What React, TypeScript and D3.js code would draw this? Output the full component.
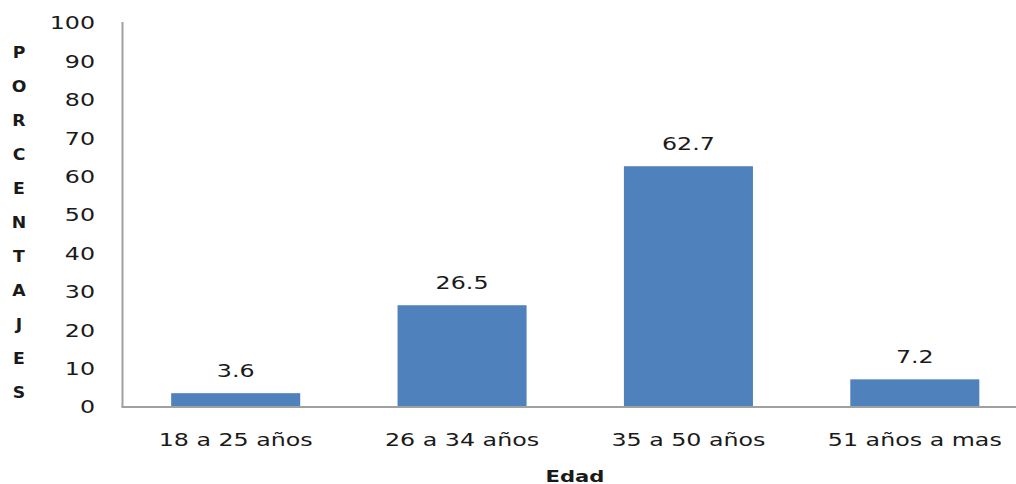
import React from "react";
import * as d3 from "d3";

const categories = ["18 a 25 años", "26 a 34 años", "35 a 50 años", "51 años a mas"];
const values = [3.6, 26.5, 62.7, 7.2];
const yTicks = [0, 10, 20, 30, 40, 50, 60, 70, 80, 90, 100];
const yTitle = "PORCENTAJES";
const xTitle = "Edad";

const W = 1016;
const H = 484;
const SX = 1.32;
const FONT = "'DejaVu Sans', Verdana, sans-serif";

export default function App() {
  const x = d3
    .scaleBand<string>()
    .domain(categories)
    .range([122.5, 1028])
    .paddingInner(0.43)
    .paddingOuter(0.215);
  const y = d3.scaleLinear().domain([0, 100]).range([407, 23]);
  const letters = yTitle.split("");

  return (
    <svg
      width={W}
      height={H}
      style={{ position: "absolute", left: 0, top: 0, background: "#fff" }}
      fontFamily={FONT}
    >
      <rect x={0} y={0} width={W} height={H} fill="#fff" />
      {/* bars */}
      {categories.map((c, i) => (
        <rect
          key={c}
          x={x(c)}
          y={y(values[i])}
          width={x.bandwidth()}
          height={y(0) - y(values[i])}
          fill="#4F81BD"
        />
      ))}
      {/* axes */}
      <line x1={122.5} x2={122.5} y1={22} y2={407} stroke="#a0a0a0" strokeWidth={2} />
      <line x1={121.5} x2={W} y1={407} y2={407} stroke="#a0a0a0" strokeWidth={2} />
      {/* y tick labels */}
      {yTicks.map((t) => (
        <text
          key={t}
          transform={`translate(95,${y(t)}) scale(${SX},1)`}
          textAnchor="end"
          dy="0.36em"
          fontSize={18}
          fill="#1a1a1a"
        >
          {t}
        </text>
      ))}
      {/* category labels */}
      {categories.map((c) => (
        <text
          key={c}
          transform={`translate(${(x(c) as number) + x.bandwidth() / 2},446) scale(${SX},1)`}
          textAnchor="middle"
          fontSize={18}
          fill="#1a1a1a"
        >
          {c}
        </text>
      ))}
      {/* data labels */}
      {categories.map((c, i) => (
        <text
          key={c + "v"}
          transform={`translate(${(x(c) as number) + x.bandwidth() / 2},${y(values[i]) - 16}) scale(${SX},1)`}
          textAnchor="middle"
          fontSize={18}
          fill="#1a1a1a"
        >
          {values[i]}
        </text>
      ))}
      {/* y title: stacked letters */}
      {letters.map((l, i) => (
        <text
          key={i}
          transform={`translate(19,${58 + i * 34}) scale(1.15,1)`}
          textAnchor="middle"
          fontSize={15}
          fontWeight="bold"
          fill="#1a1a1a"
        >
          {l}
        </text>
      ))}
      {/* x title */}
      <text
        transform={`translate(575,482) scale(${SX},1)`}
        textAnchor="middle"
        fontSize={16}
        fontWeight="bold"
        fill="#1a1a1a"
      >
        {xTitle}
      </text>
    </svg>
  );
}
